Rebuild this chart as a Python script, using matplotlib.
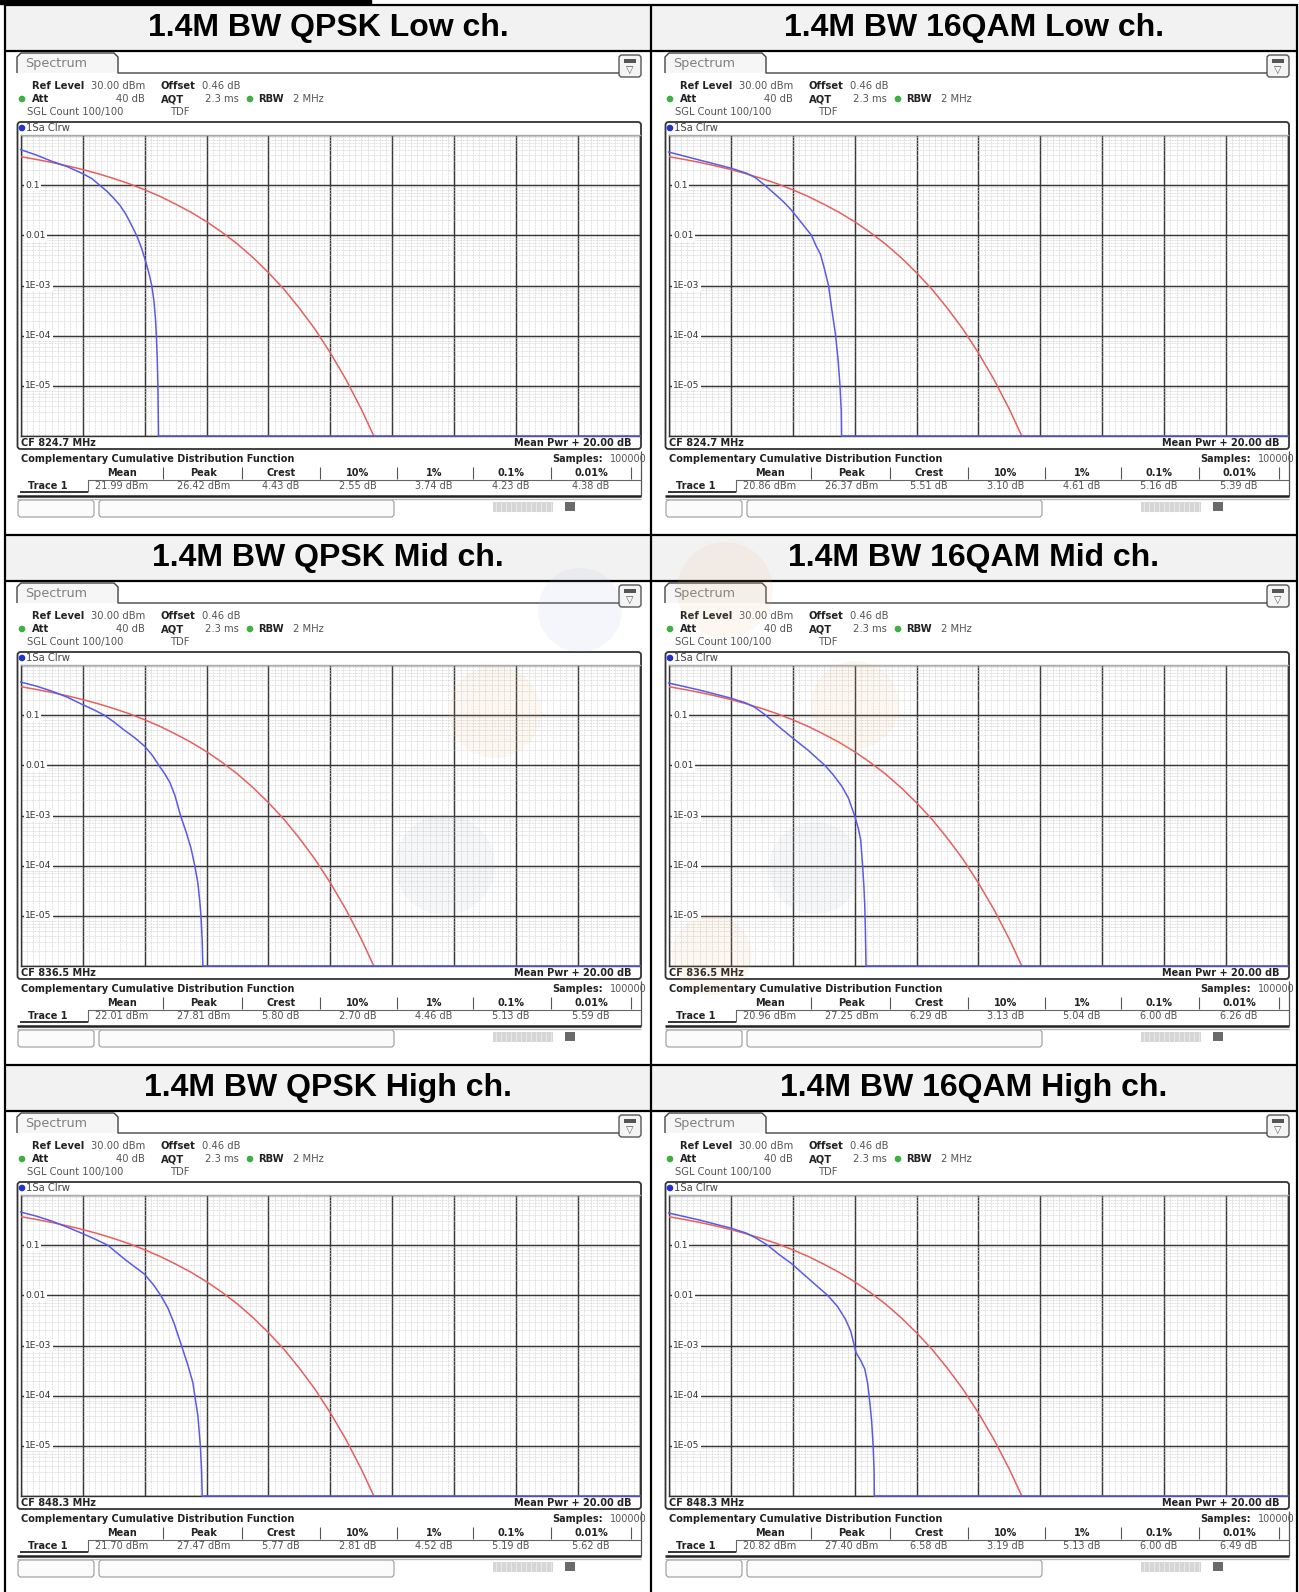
import matplotlib
matplotlib.use('Agg')
import matplotlib.pyplot as plt
from matplotlib.patches import Rectangle, FancyBboxPatch, Polygon, Circle
from matplotlib.ticker import FixedLocator, LogLocator
import matplotlib.transforms as mtransforms
import numpy as np

W, H = 1299, 1592

# ---- data ----
titles = ['1.4M BW QPSK Low ch.', '1.4M BW 16QAM Low ch.',
          '1.4M BW QPSK Mid ch.', '1.4M BW 16QAM Mid ch.',
          '1.4M BW QPSK High ch.', '1.4M BW 16QAM High ch.']
center_freqs = ['CF 824.7 MHz', 'CF 824.7 MHz', 'CF 836.5 MHz',
                'CF 836.5 MHz', 'CF 848.3 MHz', 'CF 848.3 MHz']
col_headers = ['Mean', 'Peak', 'Crest', '10%', '1%', '0.1%', '0.01%']
table_values = [
    ['21.99 dBm', '26.42 dBm', '4.43 dB', '2.55 dB', '3.74 dB', '4.23 dB', '4.38 dB'],
    ['20.86 dBm', '26.37 dBm', '5.51 dB', '3.10 dB', '4.61 dB', '5.16 dB', '5.39 dB'],
    ['22.01 dBm', '27.81 dBm', '5.80 dB', '2.70 dB', '4.46 dB', '5.13 dB', '5.59 dB'],
    ['20.96 dBm', '27.25 dBm', '6.29 dB', '3.13 dB', '5.04 dB', '6.00 dB', '6.26 dB'],
    ['21.70 dBm', '27.47 dBm', '5.77 dB', '2.81 dB', '4.52 dB', '5.19 dB', '5.62 dB'],
    ['20.82 dBm', '27.40 dBm', '6.58 dB', '3.19 dB', '5.13 dB', '6.00 dB', '6.49 dB'],
]

# measured trace (blue), x in dB above mean power, y = probability
blue_x = [
    [0, 0.5, 1.0, 1.5, 2.0, 2.3, 2.55, 2.8, 3.0, 3.2, 3.4, 3.6, 3.74, 3.9, 4.05, 4.15,
     4.23, 4.3, 4.35, 4.38, 4.41, 4.43, 4.44, 4.45, 20],
    [0, 0.5, 1.0, 1.5, 2.0, 2.5, 2.8, 3.1, 3.4, 3.7, 3.95, 4.25, 4.61, 4.75, 4.9, 5.0,
     5.16, 5.27, 5.39, 5.47, 5.53, 5.57, 5.58, 20],
    [0, 0.5, 1.0, 1.5, 2.0, 2.35, 2.7, 3.0, 3.35, 3.7, 4.0, 4.25, 4.46, 4.65, 4.82, 4.98,
     5.16, 5.35, 5.5, 5.62, 5.72, 5.78, 5.82, 5.86, 5.88, 20],
    [0, 0.5, 1.0, 1.5, 2.0, 2.5, 2.8, 3.13, 3.5, 3.95, 4.5, 5.04, 5.3, 5.58, 5.8, 6.0,
     6.12, 6.2, 6.26, 6.3, 6.33, 6.35, 6.37, 20],
    [0, 0.5, 1.0, 1.5, 2.0, 2.4, 2.81, 3.1, 3.4, 3.7, 4.0, 4.3, 4.52, 4.75, 4.95, 5.19,
     5.4, 5.56, 5.62, 5.72, 5.8, 5.84, 5.86, 20],
    [0, 0.5, 1.0, 1.5, 2.0, 2.5, 2.8, 3.19, 3.55, 3.95, 4.5, 5.13, 5.45, 5.71, 5.88, 5.99,
     6.05, 6.2, 6.33, 6.42, 6.47, 6.55, 6.6, 6.63, 6.64, 20],
]
blue_y = [
    [0.51, 0.40, 0.30, 0.234, 0.17, 0.135, 0.10, 0.074, 0.055, 0.040, 0.026, 0.015, 0.01,
     0.0056, 0.0028, 0.00166, 1e-3, 5e-4, 2.2e-4, 1e-4, 3.2e-5, 1e-5, 3.2e-6, 1e-6, 1e-6],
    [0.457, 0.38, 0.316, 0.263, 0.219, 0.174, 0.141, 0.10, 0.069, 0.047, 0.0324, 0.019,
     0.01, 0.0063, 0.0042, 0.0025, 1e-3, 3.2e-4, 1e-4, 3.2e-5, 1e-5, 3.2e-6, 1e-6, 1e-6],
    [0.457, 0.38, 0.302, 0.229, 0.162, 0.129, 0.10, 0.074, 0.05, 0.0347, 0.024, 0.0158,
     0.01, 0.0068, 0.0045, 0.0025, 1e-3, 4.5e-4, 2.2e-4, 1e-4, 4.5e-5, 2e-5, 1e-5,
     3.2e-6, 1e-6, 1e-6],
    [0.437, 0.372, 0.316, 0.263, 0.219, 0.174, 0.141, 0.10, 0.063, 0.0372, 0.02, 0.01,
     0.0066, 0.0039, 0.00224, 1e-3, 5.6e-4, 3.2e-4, 1e-4, 4e-5, 1.6e-5, 5e-6, 1e-6, 1e-6],
    [0.457, 0.38, 0.302, 0.229, 0.17, 0.132, 0.10, 0.0708, 0.05, 0.0363, 0.0263, 0.0158,
     0.01, 0.0056, 0.0028, 1e-3, 4e-4, 1.8e-4, 1e-4, 4e-5, 1e-5, 3.2e-6, 1e-6, 1e-6],
    [0.437, 0.372, 0.316, 0.263, 0.219, 0.174, 0.141, 0.10, 0.066, 0.0437, 0.0219, 0.01,
     0.006, 0.0033, 0.0019, 1e-3, 7.2e-4, 5e-4, 3.4e-4, 1.8e-4, 1e-4, 3.2e-5, 1e-5,
     3.2e-6, 1e-6, 1e-6],
]

# reference trace (red), same in every screenshot
red_x = [0, 0.5, 1, 1.5, 2, 2.5, 3, 3.5, 4, 4.5, 5, 5.5, 6, 6.5, 7, 7.5, 8, 8.5, 9, 9.5,
         10, 10.5, 11, 11.4]
red_y = [0.37, 0.326, 0.284, 0.243, 0.205, 0.169, 0.136, 0.107, 0.081, 0.0597, 0.042, 0.0288,
         0.0187, 0.0115, 0.0067, 0.0036, 0.0018, 8.4e-4, 3.5e-4, 1.35e-4, 4.5e-5, 1.34e-5,
         3.4e-6, 1e-6]

y_major = [1e-6, 1e-5, 1e-4, 1e-3, 0.01, 0.1, 1]
y_labels = ['0.1', '0.01', '1E-03', '1E-04', '1E-05']
y_label_vals = [0.1, 0.01, 1e-3, 1e-4, 1e-5]

BLUE = '#5a5ae6'
RED = '#e6605e'
FONT = 'DejaVu Sans'

fig = plt.figure(figsize=(W / 100, H / 100), dpi=100)
bg = fig.add_axes([0, 0, 1, 1])
bg.set_xlim(0, W)
bg.set_ylim(H, 0)
bg.axis('off')
bg.set_zorder(0)


def px(x0, y0, x1, y1):
    return [x0 / W, 1 - y1 / H, (x1 - x0) / W, (y1 - y0) / H]


def line(xs, ys, color='#333333', lw=1.0, **kw):
    bg.plot(xs, ys, color=color, lw=lw, solid_capstyle='butt', **kw)


def txt(x, y, s, size=7.2, bold=False, color='#222222', ha='left', **kw):
    bg.text(x, y, s, fontsize=size, fontweight='bold' if bold else 'normal',
            color=color, ha=ha, va='center', family=FONT, **kw)


def rbox(x0, y0, x1, y1, r=3, **kw):
    bg.add_patch(FancyBboxPatch((x0, y0), x1 - x0, y1 - y0,
                                boxstyle='round,pad=0,rounding_size=%s' % r, **kw))


# ---- table frame ----
bg.add_patch(Rectangle((0, 0), 371, 4, color='black'))
for r in range(3):
    y0 = 5 + 530 * r
    bg.add_patch(Rectangle((5, y0), 1292, 46, color='#f2f2f2', zorder=0))
    line([4, 1298], [y0, y0], color='black', lw=1.6)
    line([4, 1298], [y0 + 46, y0 + 46], color='black', lw=1.6)
for xv in [5, 651, 1297]:
    line([xv, xv], [4, H], color='black', lw=1.6)

# minor vertical grid every 0.2 dB, skipping the major lines
x_minor = [round(0.2 * k, 1) for k in range(101) if k % 10]

for i in range(6):
    row, col = i // 2, i % 2
    ox, oy = 648 * col, 530 * row

    # title
    bg.text(328 + 646 * col, 28 + oy, titles[i], fontsize=23, fontweight='bold',
            ha='center', va='center', family=['Liberation Sans', 'DejaVu Sans'])

    # Spectrum tab
    bg.add_patch(Polygon([(ox + 17, oy + 73), (ox + 17, oy + 57), (ox + 21, oy + 53),
                          (ox + 114, oy + 53), (ox + 118, oy + 57), (ox + 118, oy + 73)],
                         closed=True, fc='#f6f6f6', ec='none'))
    line([ox + 17, ox + 17, ox + 21, ox + 114, ox + 118, ox + 118, ox + 619],
         [oy + 73, oy + 57, oy + 53, oy + 53, oy + 57, oy + 73, oy + 73], color='#444444', lw=1.0)
    txt(ox + 25, oy + 64, 'Spectrum', size=9.2, color='#808080')

    # icon top right
    rbox(ox + 619, oy + 55, ox + 641, oy + 77, r=3, fc='#f4f4f4', ec='#555555', lw=1.0)
    bg.add_patch(Rectangle((ox + 624, oy + 59), 12, 4, fc='#555555', ec='none'))
    txt(ox + 630, oy + 70, '\u25bd', size=7, color='#555555', ha='center')

    # settings header
    txt(ox + 32, oy + 86, 'Ref Level', bold=True)
    txt(ox + 91, oy + 86, '30.00 dBm', color='#555555')
    txt(ox + 161, oy + 86, 'Offset', bold=True)
    txt(ox + 202, oy + 86, '0.46 dB', color='#555555')
    bg.add_patch(Circle((ox + 22, oy + 99), 2.6, color='#3cb043'))
    txt(ox + 32, oy + 99, 'Att', bold=True)
    txt(ox + 145, oy + 99, '40 dB', color='#555555', ha='right')
    txt(ox + 161, oy + 99, 'AQT', bold=True)
    txt(ox + 205, oy + 99, '2.3 ms', color='#555555')
    bg.add_patch(Circle((ox + 250, oy + 99), 2.6, color='#3cb043'))
    txt(ox + 258, oy + 99, 'RBW', bold=True)
    txt(ox + 293, oy + 99, '2 MHz', color='#555555')
    txt(ox + 27, oy + 112, 'SGL Count 100/100', color='#555555')
    txt(ox + 170, oy + 112, 'TDF', color='#555555')

    # diagram box
    rbox(ox + 17.5, oy + 122, ox + 641, oy + 449, r=3, fc='white', ec='#333333', lw=1.3)
    bg.add_patch(Circle((ox + 22, oy + 128), 2.6, color='#2233cc'))
    txt(ox + 26, oy + 128, '1Sa Clrw', color='#444444')
    txt(ox + 21, oy + 443, center_freqs[i], bold=True, size=7)
    txt(ox + 632, oy + 443, 'Mean Pwr + 20.00 dB', bold=True, size=7, ha='right')

    # result table
    txt(ox + 21, oy + 459, 'Complementary Cumulative Distribution Function', bold=True, size=7)
    txt(ox + 647, oy + 459, '100000', color='#555555', ha='right', size=7)
    txt(ox + 603, oy + 459, 'Samples:', bold=True, size=7, ha='right')
    centers = [122, 204, 281, 358, 434, 511, 591]
    seps = [163, 242, 320, 397, 473, 551, 631]
    for c, h, v in zip(centers, col_headers, table_values[i]):
        txt(ox + c, oy + 473, h, bold=True, size=7, ha='center')
        txt(ox + c, oy + 486, v, color='#555555', size=7, ha='center')
    for s in seps:
        line([ox + s, ox + s], [oy + 467, oy + 479], color='#555555', lw=0.8)
    txt(ox + 48, oy + 486, 'Trace 1', bold=True, size=7, ha='center')
    line([ox + 20, ox + 88], [oy + 492, oy + 492], color='#333333', lw=1.4)
    line([ox + 88, ox + 88, ox + 641], [oy + 492, oy + 480, oy + 480], color='#666666', lw=0.8)
    line([ox + 641, ox + 641], [oy + 451, oy + 496], color='#555555', lw=0.9)
    line([ox + 17, ox + 641], [oy + 496, oy + 496], color='#222222', lw=1.8)
    line([ox + 17, ox + 641], [oy + 498.5, oy + 498.5], color='#bbbbbb', lw=1.0)

    # status bar
    rbox(ox + 18, oy + 500, ox + 94, oy + 517, r=3, fc='#fbfbfb', ec='#9a9a9a', lw=0.8)
    rbox(ox + 99, oy + 500, ox + 394, oy + 517, r=3, fc='#fbfbfb', ec='#9a9a9a', lw=0.8)
    bg.add_patch(Rectangle((ox + 493, oy + 502), 60, 10, fc='#d6d6d6', ec='none'))
    for k in range(12):
        line([ox + 496 + 5 * k, ox + 496 + 5 * k], [oy + 502, oy + 512], color='#ececec', lw=0.6)
    bg.add_patch(Rectangle((ox + 565, oy + 502), 10, 9, fc='#6a6a6a', ec='none'))

    # CCDF diagram
    ax = fig.add_axes(px(ox + 20.7, oy + 135, ox + 640.2, oy + 436))
    ax.set_zorder(1)
    ax.set_facecolor('white')
    ax.set_xlim(0, 20)
    ax.set_yscale('log')
    ax.set_ylim(1e-6, 1)
    ax.set_xticks(np.arange(0, 21, 2))
    ax.set_xticks(x_minor, minor=True)
    ax.yaxis.set_major_locator(FixedLocator(y_major))
    ax.yaxis.set_minor_locator(LogLocator(base=10, subs=np.arange(2, 10)))
    ax.set_axisbelow(True)
    ax.grid(which='minor', color='#cdcdcd', lw=0.55, ls=(0, (1, 1)), zorder=0.5)
    ax.grid(which='major', color='#383838', lw=1.05, zorder=1)
    ax.tick_params(which='both', length=0, labelbottom=False, labelleft=False)
    for side, sp in ax.spines.items():
        sp.set_color('#333333' if side != 'top' else '#aaaaaa')
        sp.set_linewidth(1.0)
    trans = mtransforms.blended_transform_factory(ax.transAxes, ax.transData)
    for v, s in zip(y_label_vals, y_labels):
        ax.text(0.007, v, s, transform=trans, fontsize=6.6, color='#333333',
                va='center', ha='left', family=FONT,
                bbox=dict(fc='white', ec='none', pad=0.8), zorder=4)
    ax.plot(red_x, red_y, color=RED, lw=1.1, zorder=3)
    ax.plot(blue_x[i], blue_y[i], color=BLUE, lw=1.1, zorder=3, clip_on=False)

# faint watermark in the middle row
wm = fig.add_axes([0, 0, 1, 1])
wm.set_xlim(0, W)
wm.set_ylim(H, 0)
wm.axis('off')
wm.set_zorder(5)
wm.patch.set_alpha(0)
for (cx, cy, rr, cc) in [(580, 610, 42, '#9fb0d8'), (495, 712, 46, '#f3b77c'),
                         (445, 865, 50, '#a9b4cc'), (725, 590, 48, '#f3b77c'),
                         (855, 705, 44, '#f3b77c'), (815, 868, 46, '#a9b4cc'),
                         (712, 955, 40, '#f3b77c')]:
    wm.add_patch(Circle((cx, cy), rr, color=cc, alpha=0.1, lw=0))

fig.savefig('out.png', dpi=100)
